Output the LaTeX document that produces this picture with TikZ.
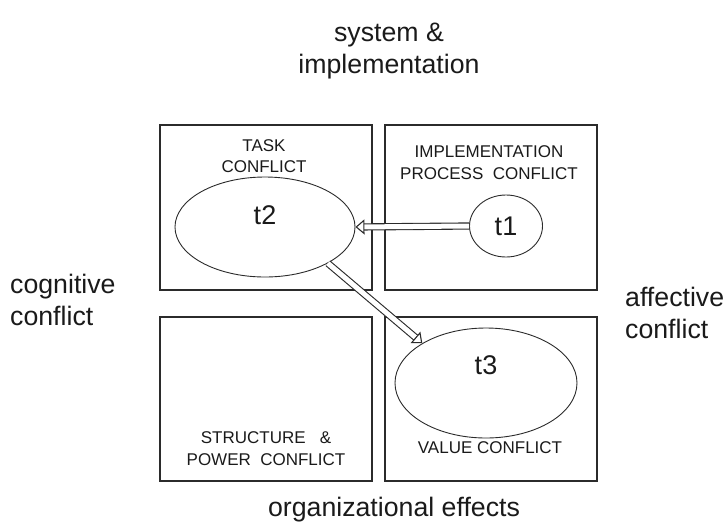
\documentclass[tikz,border=0pt]{standalone}
\usepackage{fontspec}
\setmainfont{Liberation Sans}
\usetikzlibrary{shapes.geometric,arrows.meta}
\definecolor{ink}{HTML}{2B2B2B}
\definecolor{txt}{HTML}{1A1A1A}
\tikzset{
  quad/.style={draw=ink, line width=1.3pt},
  oval/.style={draw=ink, line width=0.9pt, ellipse, inner sep=0pt},
  boxlabel/.style={text=txt, font=\fontsize{17}{21.5}\selectfont, align=center, inner sep=0pt},
  outerlabel/.style={text=txt, font=\fontsize{26.7}{31.5}\selectfont, inner sep=0pt},
  tlabel/.style={text=txt, font=\fontsize{27}{30}\selectfont, inner sep=0pt},
  flow/.style={draw=ink, line width=1.1pt, double=white, double distance=5pt,
    -{Triangle[open, length=9pt, width=15pt]}},
}
\begin{document}
\begin{tikzpicture}[x=1pt, y=-1pt]
  \useasboundingbox (0,0) rectangle (726,523);

  % four quadrants
  \draw[quad] (160,125) rectangle (372,290);
  \draw[quad] (385,125) rectangle (597,290);
  \draw[quad] (160,317) rectangle (372,481);
  \draw[quad] (385,317) rectangle (597,481);

  % quadrant titles
  \node[boxlabel] (qtask) at (264,156) {TASK\\CONFLICT};
  \node[boxlabel] (qimpl) at (489,162.5) {IMPLEMENTATION\\PROCESS\ \ CONFLICT};
  \node[boxlabel] (qstruct) at (266,448.5) {STRUCTURE\ \ \ \&\\POWER\ \ CONFLICT};
  \node[boxlabel] (qvalue) at (490,448) {VALUE CONFLICT};

  % axis labels
  \node[outerlabel, align=center] (top) at (389,51) {system \&\\implementation};
  \node[outerlabel, align=left, anchor=west] (left) at (10,300) {cognitive\\conflict};
  \node[outerlabel, align=left, anchor=west] (right) at (625,313) {affective\\conflict};
  \node[outerlabel] (bottom) at (394,510) {organizational effects};

  % tensions
  \node[oval, minimum width=180pt, minimum height=100pt] (e2) at (265,227) {};
  \node[oval, minimum width=73pt, minimum height=62pt] (e1) at (506,226) {};
  \node[oval, minimum width=182pt, minimum height=110pt] (e3) at (486,383) {};
  \node[tlabel] (t2) at (265,215) {t2};
  \node[tlabel] (t1) at (506,226) {t1};
  \node[tlabel] (t3) at (486,365) {t3};

  % influences
  \draw[flow] (e1.west) -- (e2.east);
  \draw[flow] (e2.-30) -- (e3.148);
\end{tikzpicture}
\end{document}
